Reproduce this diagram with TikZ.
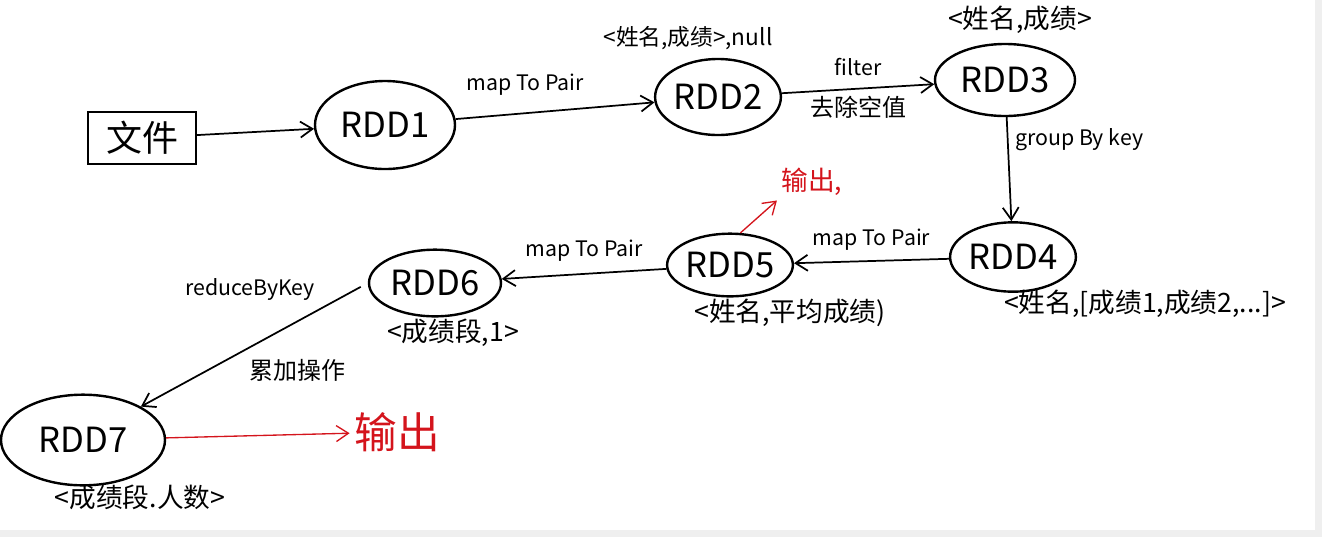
\documentclass[tikz,border=0pt]{standalone}
\usepackage{fontspec}
\setmainfont{Noto Sans CJK SC}
\usepackage{xcolor}
\usepackage{tikz}
\usetikzlibrary{arrows.meta,positioning,shapes.geometric}
\definecolor{outc}{HTML}{D4141C}
\definecolor{edgebg}{HTML}{EFEFEF}
\tikzset{
  ar/.style={-{Straight Barb[length=3.2mm,width=4.2mm]},line width=1.3pt},
  rdd/.style={ellipse,draw,line width=1.8pt,inner sep=0pt,font=\fontsize{26}{30}\selectfont},
  lbl/.style={font=\fontsize{16}{19}\selectfont,inner sep=1pt},
  cnlbl/.style={font=\fontsize{18}{21}\selectfont,inner sep=1pt},
  tup/.style={font=\fontsize{20}{24}\selectfont,inner sep=1pt}
}

\begin{document}
\begin{tikzpicture}[x=0.75pt,y=-0.75pt]
\useasboundingbox (0,0) rectangle (1322,537);
\fill[edgebg] (1315,0) rectangle (1322,537);
\fill[edgebg] (0,530) rectangle (1322,537);
% nodes
\node[draw,line width=1.6pt,minimum width=81pt,minimum height=39pt,font=\fontsize{27}{30}\selectfont] (file) at (142,138) {文件};
\node[rdd,minimum width=105pt,minimum height=66pt] (rdd1) at (385,125) {RDD1};
\node[rdd,minimum width=92pt,minimum height=57pt] (rdd2) at (718,97) {RDD2};
\node[rdd,minimum width=105pt,minimum height=54pt] (rdd3) at (1005,80) {RDD3};
\node[rdd,minimum width=88pt,minimum height=52pt] (rdd4) at (1013,257) {RDD4};
\node[rdd,minimum width=92pt,minimum height=47pt] (rdd5) at (730,265) {RDD5};
\node[rdd,minimum width=99pt,minimum height=50pt] (rdd6) at (435,283) {RDD6};
\node[rdd,minimum width=123pt,minimum height=68pt] (rdd7) at (83,440) {RDD7};
\node[text=outc,font=\fontsize{20}{24}\selectfont] (out1) at (812,182) {输出,};
\node[text=outc,font=\fontsize{32}{36}\selectfont] (out2) at (397,432) {输出};
% tuples
\node[tup,font=\fontsize{17}{20}\selectfont] (t2) at (688,38) {<姓名,成绩>,null};
\node[tup] (t3) at (1020,20) {<姓名,成绩>};
\node[tup] (t4) at (1145,304) {<姓名,[成绩1,成绩2,...]>};
\node[tup] (t5) at (790,313) {<姓名,平均成绩)};
\node[tup] (t6) at (453,333) {<成绩段,1>};
\node[tup] (t7) at (140,497) {<成绩段.人数>};
% edges
\draw[ar] (file) -- (rdd1);
\draw[ar] (rdd1) -- (rdd2) node[lbl,pos=0.35,above=12pt] (l12) {map To Pair};
\draw[ar] (rdd2) -- (rdd3) node[lbl,midway,above=8pt] (l23a) {filter}
  node[cnlbl,midway,below=4pt] (l23b) {去除空值};
\draw[ar] (rdd3) -- (rdd4) node[lbl,pos=0.22,right=4pt] (l34) {group By key};
\draw[ar] (rdd4) -- (rdd5) node[lbl,midway,above=6pt] (l45) {map To Pair};
\draw[ar] (rdd5) -- (rdd6) node[lbl,midway,above=8pt] (l56) {map To Pair};
\draw[ar,shorten <=6pt] (rdd6.west) -- (rdd7.30);
\node[lbl] (l67a) at (250,289) {reduceByKey};
\node[cnlbl] (l67b) at (297,370) {累加操作};
\draw[ar,outc,line width=1pt] (rdd5.72) -- (out1.south west);
\draw[ar,outc,line width=1pt] (rdd7) -- (out2);
\end{tikzpicture}
\end{document}
